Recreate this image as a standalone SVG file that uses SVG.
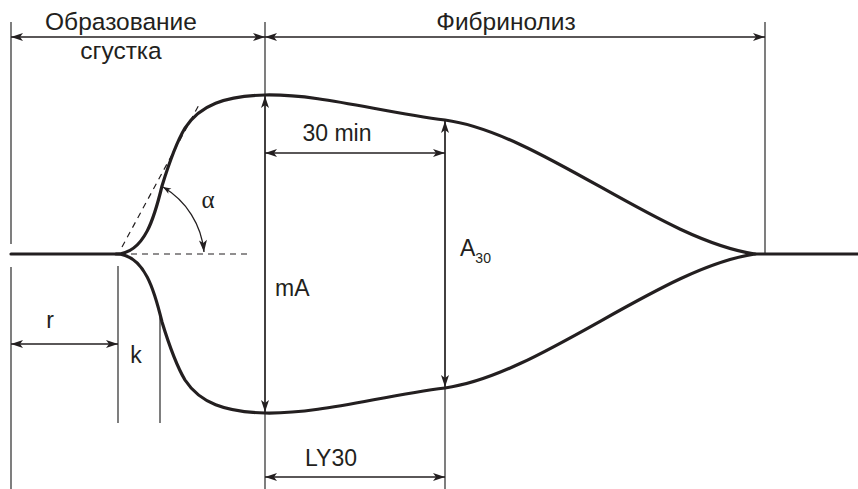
<svg xmlns="http://www.w3.org/2000/svg" width="858" height="489" viewBox="0 0 858 489">
<style>
.t{font-family:"Liberation Sans",Arial,sans-serif;font-size:23px;fill:#231f20}
.c{font-size:24.5px}
.thin{stroke:#231f20;stroke-width:1.3;fill:none}
.ext{stroke:#3a3a3a;stroke-width:1.3;fill:none}
.curve{stroke:#231f20;stroke-width:3.2;fill:none;stroke-linecap:round}
.dash{stroke:#231f20;stroke-width:1.2;fill:none;stroke-dasharray:6 5}
.dim{stroke:#231f20;stroke-width:1.3;fill:none;marker-start:url(#ah);marker-end:url(#ah)}
</style>
<defs>
<marker id="ah" markerUnits="userSpaceOnUse" markerWidth="14" markerHeight="10" viewBox="-1 -5 14 10" refX="12" refY="0" orient="auto-start-reverse">
<path d="M0,-4 L12,0 L0,4 L3,0 z" fill="#231f20"/>
</marker>
<marker id="ahs" markerUnits="userSpaceOnUse" markerWidth="10" markerHeight="8" viewBox="-1 -4 10 8" refX="8" refY="0" orient="auto-start-reverse">
<path d="M0,-3 L8,0 L0,3 L2,0 z" fill="#231f20"/>
</marker>
</defs>
<g id="extension-lines">
<line class="ext" x1="11" y1="22" x2="11" y2="244"/>
<line class="ext" x1="11" y1="267" x2="11" y2="489"/>
<line class="ext" x1="265" y1="22" x2="265" y2="489"/>
<line class="ext" x1="765" y1="22" x2="765" y2="254"/>
<line class="ext" x1="445" y1="120" x2="445" y2="489"/>
<line class="ext" x1="118" y1="266" x2="118" y2="423"/>
<line class="ext" x1="160" y1="316" x2="160" y2="423"/>
</g>
<g id="curves">
<path class="curve" d="M11,254 L116,254 C145,254 155,215 162,186 C170,160 176,143 185,128 C200,105 225,96 265,95 C320,94 380,112 445,120 C540,133 660,240 755,254 L858,254"/>
<path class="curve" transform="translate(0,508) scale(1,-1)" d="M116,254 C145,254 155,215 162,186 C170,160 176,143 185,128 C200,105 225,96 265,95 C320,94 380,112 445,120 C540,133 660,240 755,254"/>
</g>
<g id="helpers">
<line class="dash" x1="122" y1="247" x2="200" y2="103"/>
<line class="dash" x1="120" y1="254" x2="250" y2="254"/>
<path d="M163,187 A84,84 0 0 1 204,252" stroke="#231f20" stroke-width="1.3" fill="none" marker-start="url(#ahs)" marker-end="url(#ah)"/>
</g>
<g id="connectors">
<line class="dim" x1="11" y1="37" x2="265" y2="37"/>
<line class="dim" x1="265" y1="37" x2="765" y2="37"/>
<line class="dim" x1="265" y1="96" x2="265" y2="412"/>
<line class="dim" x1="445" y1="121" x2="445" y2="387"/>
<line class="dim" x1="265" y1="153" x2="445" y2="153"/>
<line class="dim" x1="265" y1="477" x2="445" y2="477"/>
<line class="dim" x1="11" y1="344" x2="118" y2="344"/>
</g>
<g id="labels">
<text class="t c" x="121" y="30" text-anchor="middle">Образование</text>
<text class="t c" x="121" y="59" text-anchor="middle">сгустка</text>
<text class="t c" x="506" y="30" text-anchor="middle">Фибринолиз</text>
<text class="t" x="337" y="141" text-anchor="middle">30 min</text>
<text class="t" x="331" y="466" text-anchor="middle">LY30</text>
<text class="t" x="275" y="296">mA</text>
<text class="t" x="460" y="256">A<tspan font-size="14" dy="7">30</tspan></text>
<text class="t" x="50" y="328" text-anchor="middle">r</text>
<text class="t" x="136" y="363" text-anchor="middle">k</text>
<text x="208" y="208" text-anchor="middle" font-family="'Liberation Serif','DejaVu Serif',serif" font-size="25" fill="#231f20">α</text>
</g>
</svg>
